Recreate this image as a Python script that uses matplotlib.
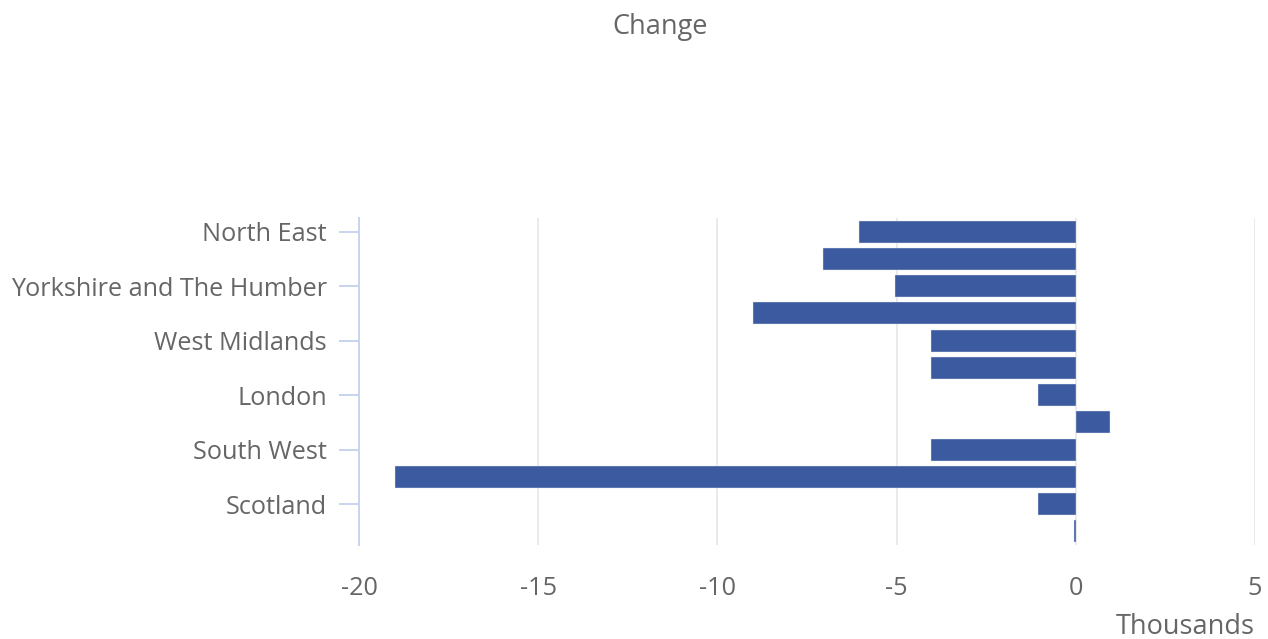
import numpy as np
import matplotlib
matplotlib.use("Agg")
import matplotlib.pyplot as plt

regions = ["North East", "North West", "Yorkshire and The Humber", "East Midlands",
           "West Midlands", "East of England", "London", "South East",
           "South West", "Wales", "Scotland", "Northern Ireland"]
change = [-6.05, -7.05, -5.05, -9.0, -4.05, -4.05, -1.05, 0.95, -4.05, -19.0, -1.05, -0.06]
xticks = [-20, -15, -10, -5, 0, 5]

plt.rcParams['font.family'] = ['Open Sans', 'DejaVu Sans']
grey = "#666666"
axcol = "#c9d5ee"
fs = 18.2

fig = plt.figure(figsize=(12.68, 6.39), dpi=100)
ax = fig.add_axes([359/1268, (639-545)/639, (1255-359)/1268, (545-218)/639])

y = np.arange(len(regions))
ax.barh(y, change, height=0.8, color="#3c5a9f", edgecolor="#e3e8f3",
        linewidth=0.3, zorder=2)

ax.set_xlim(-20, 5)
ax.set_ylim(len(regions) - 0.5, -0.5)
for v in xticks[1:]:
    ax.axvline(v, color="#e4e4e4", lw=1.1, zorder=1)

ax.set_xticks(xticks)
ax.set_xticklabels([str(v) for v in xticks])
ax.set_yticks(y[::2])
ax.set_yticklabels(regions[::2])
ax.tick_params(axis='x', length=0, pad=22, labelsize=fs, labelcolor=grey)
ax.tick_params(axis='y', length=14.4, width=1.44, color=axcol, pad=8.6, labelsize=fs, labelcolor=grey)

for s in ["top", "right", "bottom"]:
    ax.spines[s].set_visible(False)
ax.spines["left"].set_color(axcol)
ax.spines["left"].set_linewidth(1.44)

fig.text(1255/1268, 1 - 627/639, "Thousands", ha="right", va="center", fontsize=19.5, color=grey)
fig.text(660/1268, 1 - 27/639, "Change", ha="center", va="center", fontsize=19.5, color=grey)

fig.savefig("out.png", dpi=100)
